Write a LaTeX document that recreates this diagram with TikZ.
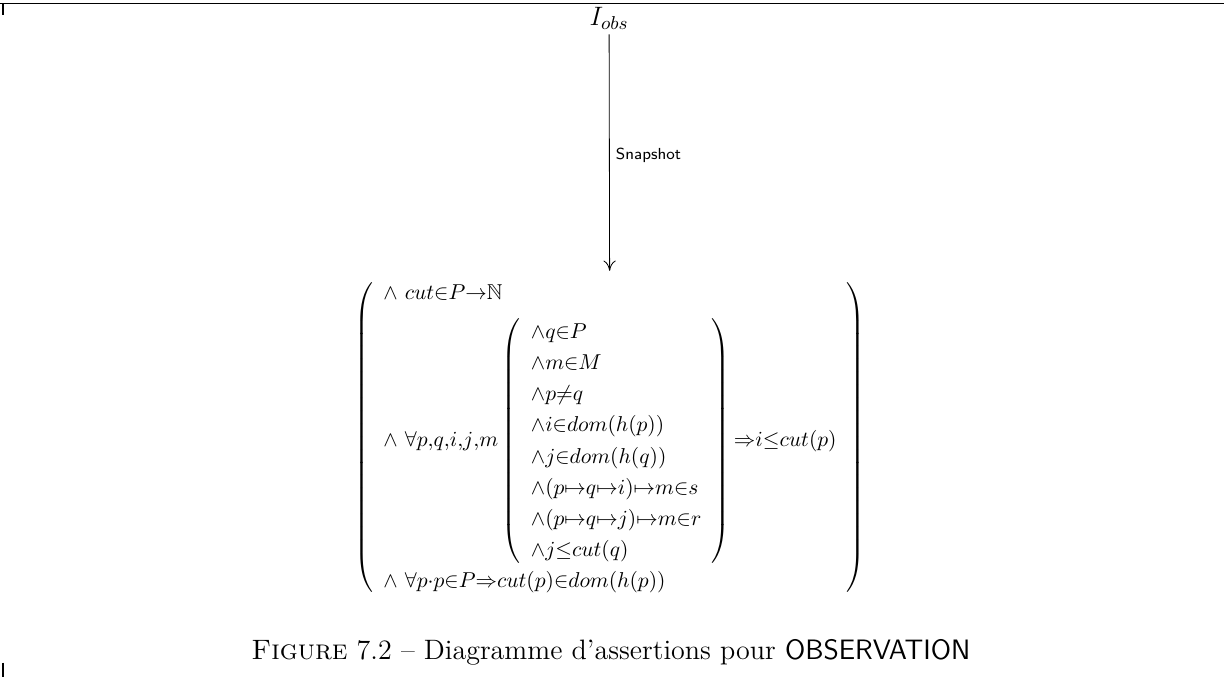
\RequirePackage{fix-cm}
\documentclass[12pt,tikz,border=0pt]{standalone}
\usepackage{amssymb,amsmath}
\usepackage{tikz}
\usetikzlibrary{arrows.meta,positioning}
\tikzstyle{state} = [inner sep=2pt, font=\fontsize{13}{15}\selectfont]
\tikzstyle{assertion} = [inner sep=0pt, font=\fontsize{10.5}{15.2}\selectfont]
\tikzstyle{arrow} = [-{To[length=5pt,width=6pt]}, line width=0.4pt]
\tikzstyle{trans} = [midway, right, inner sep=3pt, font=\sffamily\fontsize{7.8}{9}\selectfont]
\tikzstyle{frame} = [line width=0.6pt]
\tikzstyle{legend} = [font=\fontsize{13.7}{16}\selectfont]

\begin{document}
\begin{tikzpicture}
\useasboundingbox (0,0) rectangle (21,-11.614);
\draw[frame] (0,-0.06) -- (21,-0.06);
\draw[frame] (0.05,-0.06) -- (0.05,-0.26);
\draw[frame] (0.05,-11.37) -- (0.05,-11.614);
\node[state] (iobs) at (10.45,-0.32) {$I_{obs}$};
\node[assertion] (assert) at (10.465,-7.5) {$\left(\begin{array}{l}
\wedge\ cut{\in}P{\rightarrow}\mathbb{N}\\[4pt]
\wedge\ \forall p{,}q{,}i{,}j{,}m\left(\begin{array}{l}
\wedge q{\in}P\\
\wedge m{\in}M\\
\wedge p{\neq}q\\
\wedge i{\in}dom(h(p))\\
\wedge j{\in}dom(h(q))\\
\wedge (p{\mapsto}q{\mapsto}i){\mapsto}m{\in}s\\
\wedge (p{\mapsto}q{\mapsto}j){\mapsto}m{\in}r\\
\wedge j{\leq}cut(q)
\end{array}\right){\Rightarrow}i{\leq}cut(p)\\[4pt]
\wedge\ \forall p{\cdot}p{\in}P{\Rightarrow}cut(p){\in}dom(h(p))
\end{array}\right)$};
\draw[arrow, shorten >=3pt] (iobs) -- (assert) node[trans] {Snapshot};
\node[legend] (caption) at (10.48,-11.19) {\textsc{Figure} 7.2 -- Diagramme d'assertions pour \textsf{OBSERVATION}};
\end{tikzpicture}
\end{document}
